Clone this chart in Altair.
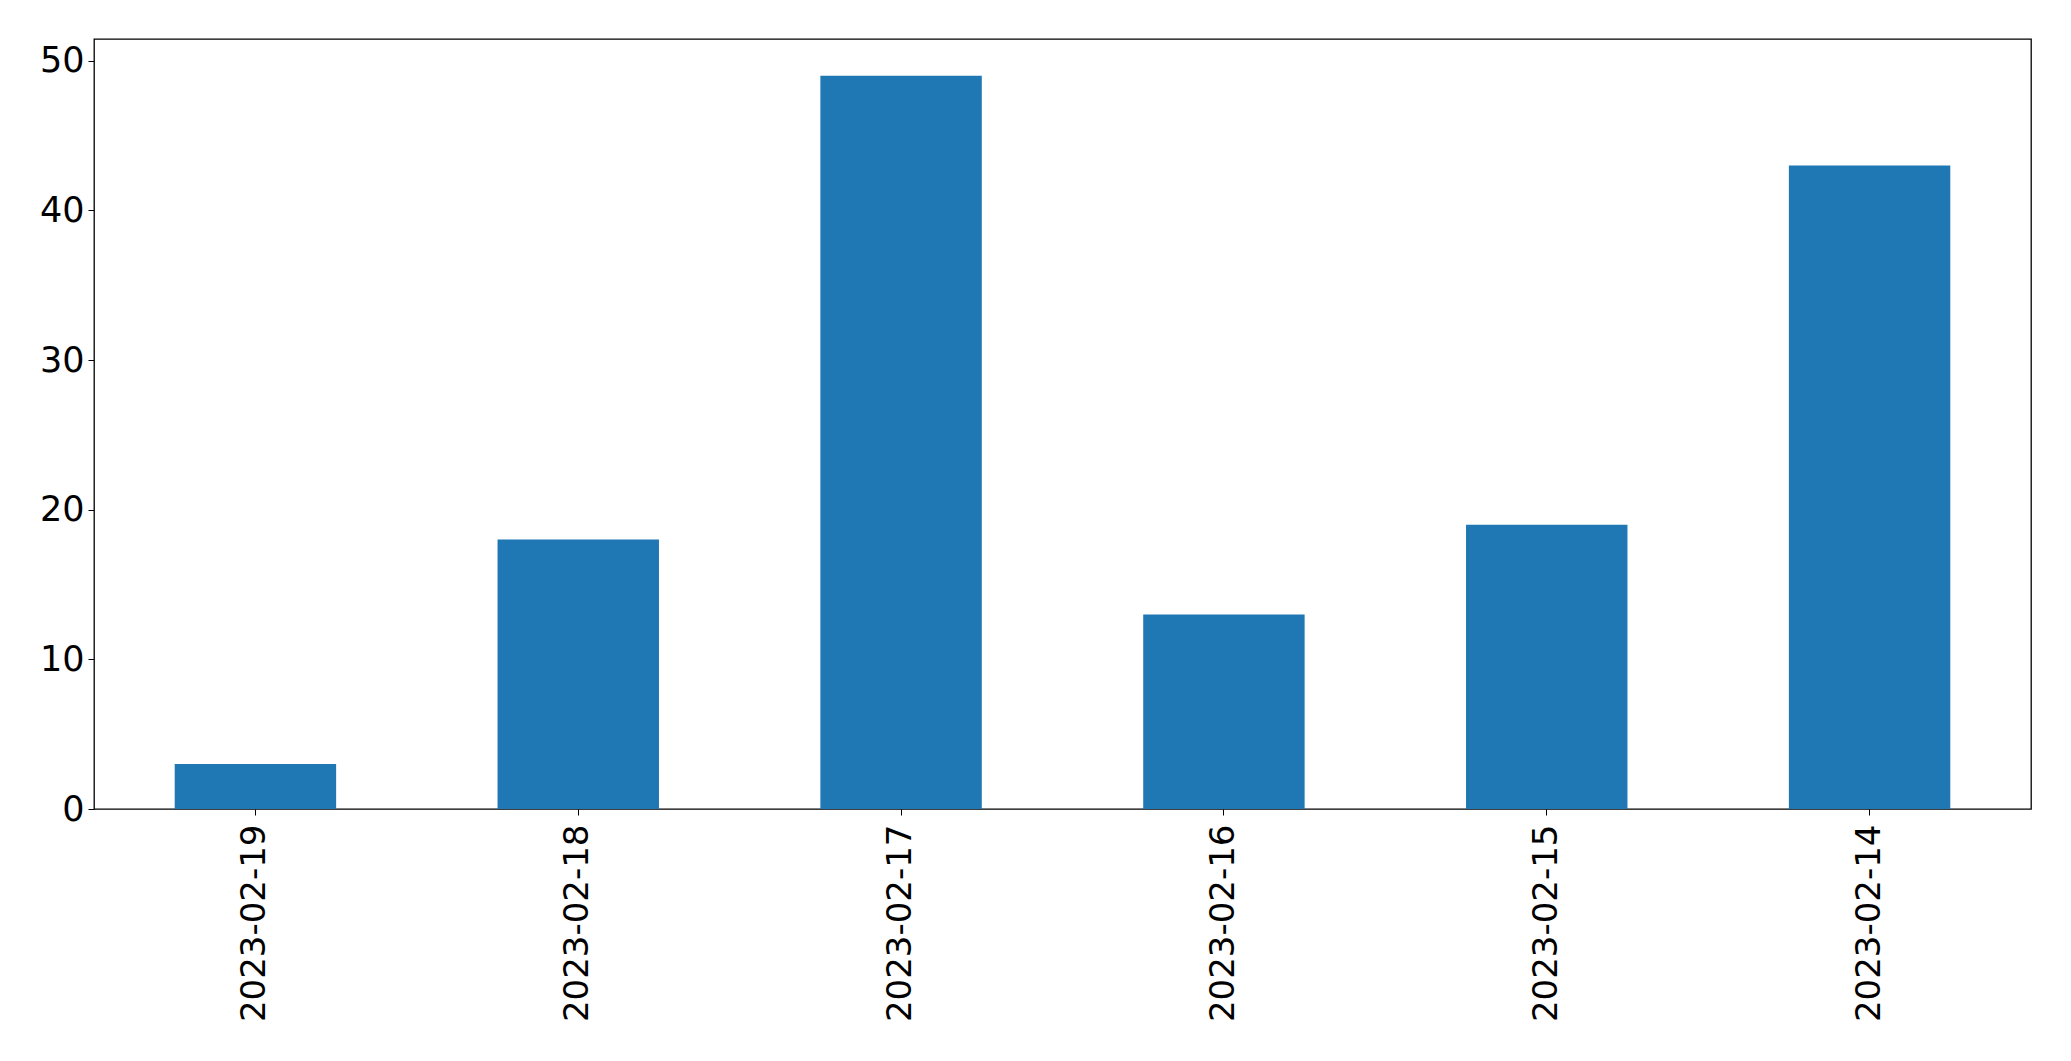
import altair as alt
import pandas as pd

dates = ["2023-02-19", "2023-02-18", "2023-02-17", "2023-02-16", "2023-02-15", "2023-02-14"]
counts = [3, 18, 49, 13, 19, 43]

df = pd.DataFrame({"date": dates, "count": counts})

FONT = "DejaVu Sans"

chart = alt.Chart(df).mark_bar(color="#1f77b4").encode(
    x=alt.X("date:N", sort=dates,
            scale=alt.Scale(paddingInner=0.5, paddingOuter=0.25),
            axis=alt.Axis(title=None, labelAngle=-90, labelFontSize=34, labelFont=FONT,
                          labelColor="black", tickColor="black", tickSize=6, tickWidth=1,
                          labelPadding=9, labelLimit=0, domain=False, grid=False)),
    y=alt.Y("count:Q", scale=alt.Scale(domain=[0, 51.45], nice=False, zero=True),
            axis=alt.Axis(title=None, values=[0, 10, 20, 30, 40, 50], labelFontSize=35,
                          labelFont=FONT, labelColor="black", tickColor="black", tickSize=6,
                          tickWidth=1, labelPadding=4, labelLimit=0, domain=False, grid=False)),
).properties(
    width=1937,
    height=770,
    autosize=alt.AutoSizeParams(type="none"),
    padding={"left": 86, "top": 31, "right": 30, "bottom": 240},
).configure_view(
    stroke="black", strokeWidth=1.3
)

chart.save("out.html", embed_options={"renderer": "svg", "actions": False})
